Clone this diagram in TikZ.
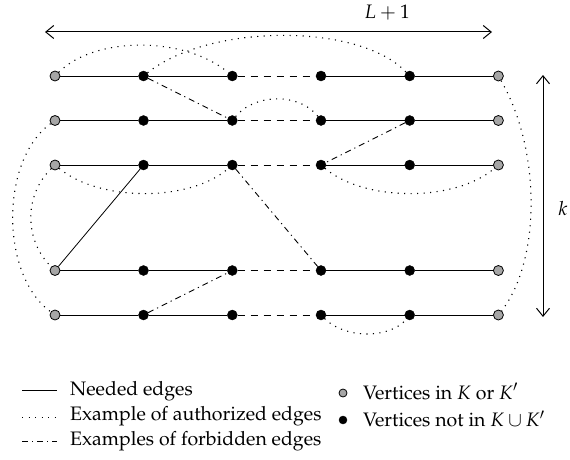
\documentclass[tikz,border=0pt]{standalone}
\usepackage[T1]{fontenc}
\usepackage{mathpazo}
\usetikzlibrary{arrows.meta}
\begin{document}
\begin{tikzpicture}[x=1pt,y=-1pt,
  every node/.style={font=\fontsize{19.5}{24}\selectfont},
  gv/.style={circle,draw=black,line width=0.8pt,fill=black!35,inner sep=0pt,minimum size=10pt},
  bv/.style={circle,draw=black,fill=black,inner sep=0pt,minimum size=10pt},
  gvs/.style={gv,minimum size=8pt},
  bvs/.style={bv,minimum size=8pt},
  needed/.style={line width=1pt},
  auth/.style={line width=1.1pt,dash pattern=on 1.1pt off 5.4pt},
  forb/.style={line width=0.9pt,dash pattern=on 6pt off 4pt on 1.2pt off 4pt},
  hole/.style={line width=1pt,dash pattern=on 7.5pt off 5.5pt},
  dimarr/.style={line width=1pt,{Straight Barb[length=8pt,width=13pt]}-{Straight Barb[length=8pt,width=13pt]}},
  txt/.style={anchor=base west,inner sep=0pt}
]
\useasboundingbox (0,0) rectangle (570,460);
% vertices
\foreach \r/\y in {0/76,1/120.5,2/165,3/270.5,4/315}{
  \node[gv] (v0\r) at (55,\y) {};
  \node[bv] (v1\r) at (143.5,\y) {};
  \node[bv] (v2\r) at (232.3,\y) {};
  \node[bv] (v3\r) at (321,\y) {};
  \node[bv] (v4\r) at (409.7,\y) {};
  \node[gv] (v5\r) at (498.4,\y) {};
}
% row edges
\foreach \r in {0,...,4}{
  \draw[needed] (v0\r) -- (v1\r) -- (v2\r);
  \draw[hole] (v2\r) -- (v3\r);
  \draw[needed] (v3\r) -- (v4\r) -- (v5\r);
}
% needed diagonal
\draw[line width=0.8pt] (v03) -- (v12);
% forbidden edges
\draw[forb] (v10) -- (v21);
\draw[forb] (v41) -- (v32);
\draw[forb] (v22) -- (v33);
\draw[forb] (v14) -- (v23);
% authorized edges
\draw[auth] (v00) .. controls (95,36) and (185,36) .. (v20);
\draw[auth] (v10) .. controls (210,23) and (360,23) .. (v40);
\draw[auth] (v21) .. controls (255,93) and (300,93) .. (v31);
\draw[auth] (v02) .. controls (100,202) and (190,202) .. (v22);
\draw[auth] (v32) .. controls (365,202) and (455,202) .. (v52);
\draw[auth] (v34) .. controls (345,339) and (390,339) .. (v44);
\draw[auth] (v01) .. controls (0,160) and (0,275) .. (v04);
\draw[auth] (v02) .. controls (24,195) and (24,240) .. (v03);
\draw[auth] (v50) .. controls (541,150) and (541,260) .. (v54);
% dimension arrows
\coordinate (hl) at (45,32);
\coordinate (hr) at (492,32);
\coordinate (vt) at (543,75);
\coordinate (vb) at (543,317);
\draw[dimarr] (hl) -- (hr);
\draw[dimarr] (vt) -- (vb);
\node (lab1) at (387,13) {$L+1$};
\node (labk) at (563,208) {$k$};
% legend
\coordinate (la1) at (22,390); \coordinate (lb1) at (57,390);
\coordinate (la2) at (22,417.5); \coordinate (lb2) at (57,417.5);
\coordinate (la3) at (22,441.5); \coordinate (lb3) at (57,441.5);
\draw[needed] (la1) -- (lb1);
\draw[auth] (la2) -- (lb2);
\draw[forb] (la3) -- (lb3);
\node[txt] (t1) at (70,395) {Needed edges};
\node[txt] (t2) at (70,420.5) {Example of authorized edges};
\node[txt] (t3) at (70,445) {Examples of forbidden edges};
\node[gvs] (m1) at (343,393) {};
\node[bvs] (m2) at (343,420) {};
\node[txt] (t4) at (363,399) {Vertices in $K$ or $K'$};
\node[txt] (t5) at (363,426.5) {Vertices not in $K\cup K'$};
\end{tikzpicture}
\end{document}
